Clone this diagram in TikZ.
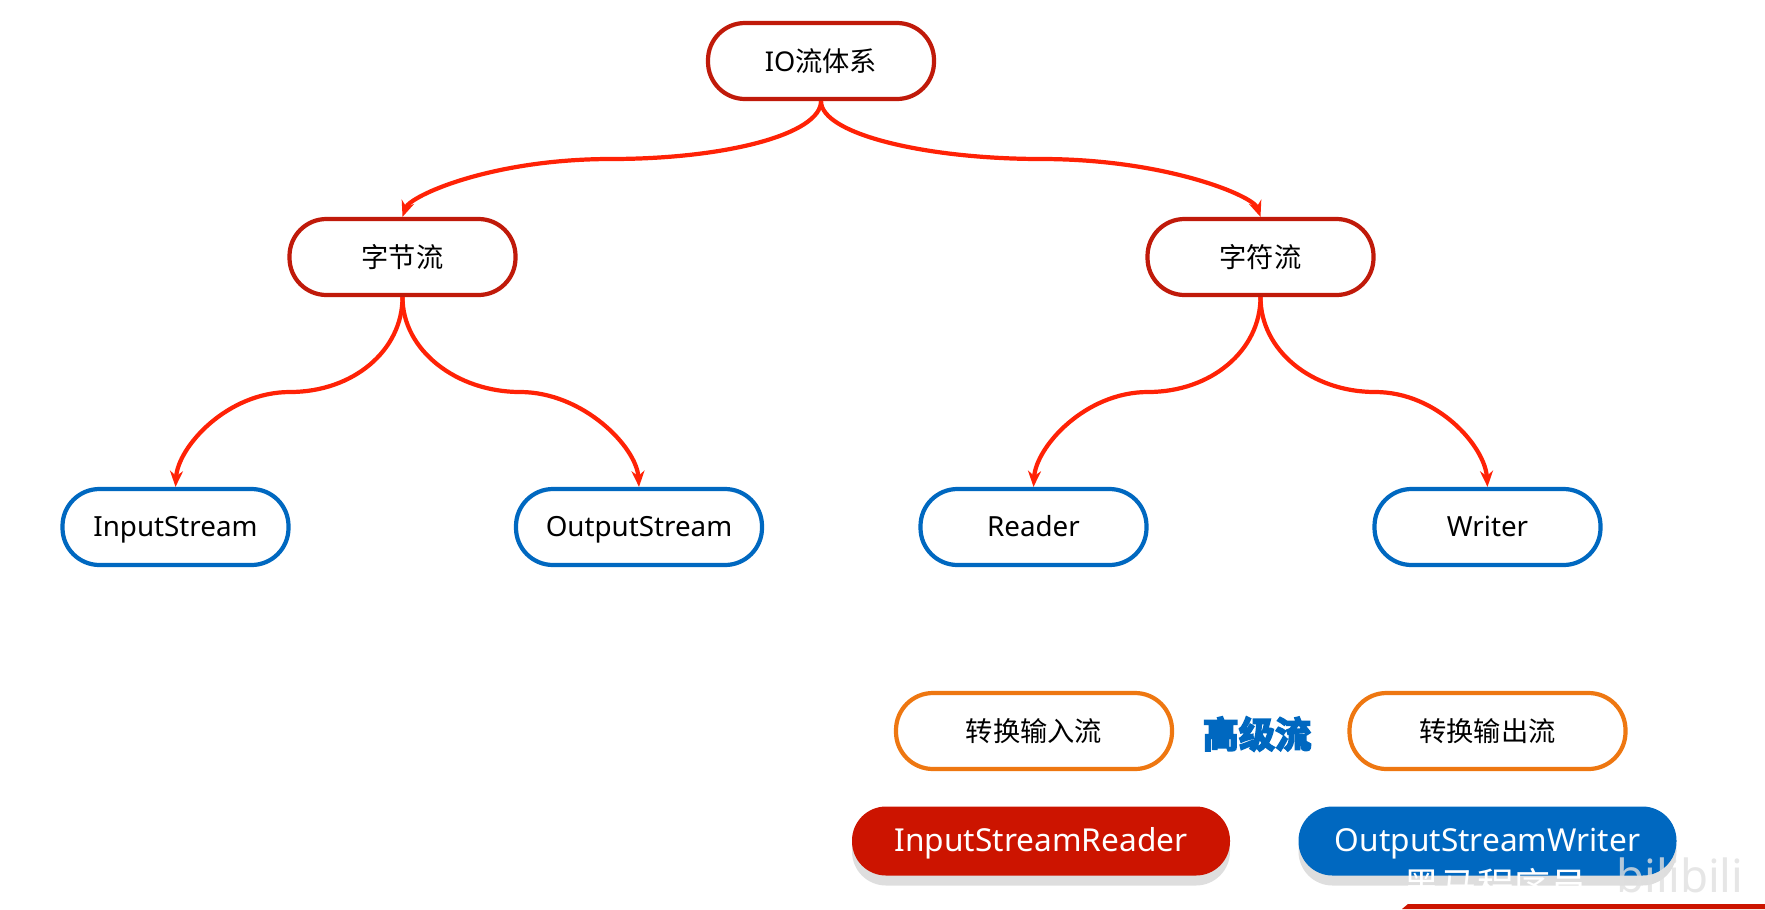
\documentclass[tikz,border=0pt]{standalone}
\usepackage{fontspec}
\setmainfont{Noto Sans}
\newfontfamily\cjk{Noto Sans CJK SC}
\newfontfamily\cjkheavy[FakeBold=5]{Noto Sans CJK SC Bold}
\usetikzlibrary{arrows.meta, shadows}
\definecolor{darkred}{HTML}{C01A0A}
\definecolor{linered}{HTML}{FF2206}
\definecolor{fillred}{HTML}{CC1400}
\definecolor{boxblue}{HTML}{0068C0}
\definecolor{boxorange}{HTML}{EE7711}
\tikzstyle{pill} = [rectangle, rounded corners=0.74cm, minimum height=1.52cm, align=center, line width=2.4pt, fill=white, font=\fontsize{15.5}{18}\selectfont]
\tikzstyle{rootnode} = [pill, draw=darkred, minimum width=4.52cm]
\tikzstyle{leafnode} = [pill, draw=boxblue, minimum width=4.52cm, text height=0.5cm, text depth=0.11cm, font=\fontsize{15.8}{18}\selectfont]
\tikzstyle{convnode} = [pill, draw=boxorange, minimum width=5.52cm]
\tikzstyle{solidnode} = [rectangle, rounded corners=0.68cm, minimum width=7.56cm, minimum height=1.38cm, text=white, text height=0.56cm, text depth=0.13cm, font=\fontsize{18}{20}\selectfont, drop shadow={shadow xshift=0cm, shadow yshift=-0.2cm, fill=black!13, opacity=1}]
\tikzstyle{connector} = [line width=2.4pt, draw=linered, -{Stealth[length=0.32cm, width=0.26cm]}]

\begin{document}
\begin{tikzpicture}
  \useasboundingbox (0,0) rectangle (35.3,-18.18);

  % Top node
  \node (io) at (16.42,-1.22) [rootnode] {IO{\cjk 流体系}};

  % Second level
  \node (byte) at (8.05,-5.14) [rootnode] {\cjk 字节流};
  \node (char) at (25.21,-5.14) [rootnode] {\cjk 字符流};

  % Third level
  \node (input) at (3.51,-10.54) [leafnode] {InputStream};
  \node (output) at (12.78,-10.54) [leafnode, minimum width=4.92cm] {OutputStream};
  \node (reader) at (20.67,-10.54) [leafnode] {Reader};
  \node (writer) at (29.75,-10.54) [leafnode] {Writer};

  % Bottom group
  \node (convin) at (20.68,-14.62) [convnode] {\cjk 转换输入流};
  \node (convout) at (29.75,-14.62) [convnode] {\cjk 转换输出流};
  \node (high) at (25.14,-14.68) [text=boxblue, font=\fontsize{20.6}{22}\selectfont\cjkheavy] {高级流};
  \node (isr) at (20.82,-16.82) [solidnode, fill=fillred] {InputStreamReader};
  \node (osw) at (29.75,-16.82) [solidnode, fill=boxblue] {OutputStreamWriter};

  % Bends of the connectors
  \coordinate (bendA) at (12.22,-3.18);
  \coordinate (bendB) at (20.82,-3.18);
  \coordinate (bendC) at (5.8,-7.84);
  \coordinate (bendD) at (10.4,-7.84);
  \coordinate (bendE) at (22.96,-7.84);
  \coordinate (bendF) at (27.5,-7.84);

  % Arrows from top
  \draw[connector] (io.south) .. controls +(0,-0.66) and +(2.3,0) .. (bendA) .. controls +(-2.4,0) and +(0.15,0.42) .. (byte.north);
  \draw[connector] (io.south) .. controls +(0,-0.66) and +(-2.3,0) .. (bendB) .. controls +(2.5,0) and +(-0.15,0.42) .. (char.north);

  % Arrows from bytes
  \draw[connector] (byte.south) .. controls +(0,-1.07) and +(1.26,0) .. (bendC) .. controls +(-1.26,0) and +(0.05,0.8) .. (input.north);
  \draw[connector] (byte.south) .. controls +(0,-1.07) and +(-1.26,0) .. (bendD) .. controls +(1.26,0) and +(-0.05,0.8) .. (output.north);

  % Arrows from chars
  \draw[connector] (char.south) .. controls +(0,-1.07) and +(1.26,0) .. (bendE) .. controls +(-1.26,0) and +(0.05,0.8) .. (reader.north);
  \draw[connector] (char.south) .. controls +(0,-1.07) and +(-1.26,0) .. (bendF) .. controls +(1.26,0) and +(-0.05,0.8) .. (writer.north);

  % Corner of the frame
  \fill[fillred] (28.04,-18.18) -- (28.16,-18.08) -- (35.3,-18.08) -- (35.3,-18.18) -- cycle;
  \node (brand) at (29.91,-17.7) [text=white, font=\fontsize{21}{23}\selectfont\cjk] {黑马程序员};
  \node (site) at (33.6,-17.5) [text=black!12, opacity=0.8, font=\fontsize{26}{28}\selectfont] {bilibili};

\end{tikzpicture}
\end{document}
